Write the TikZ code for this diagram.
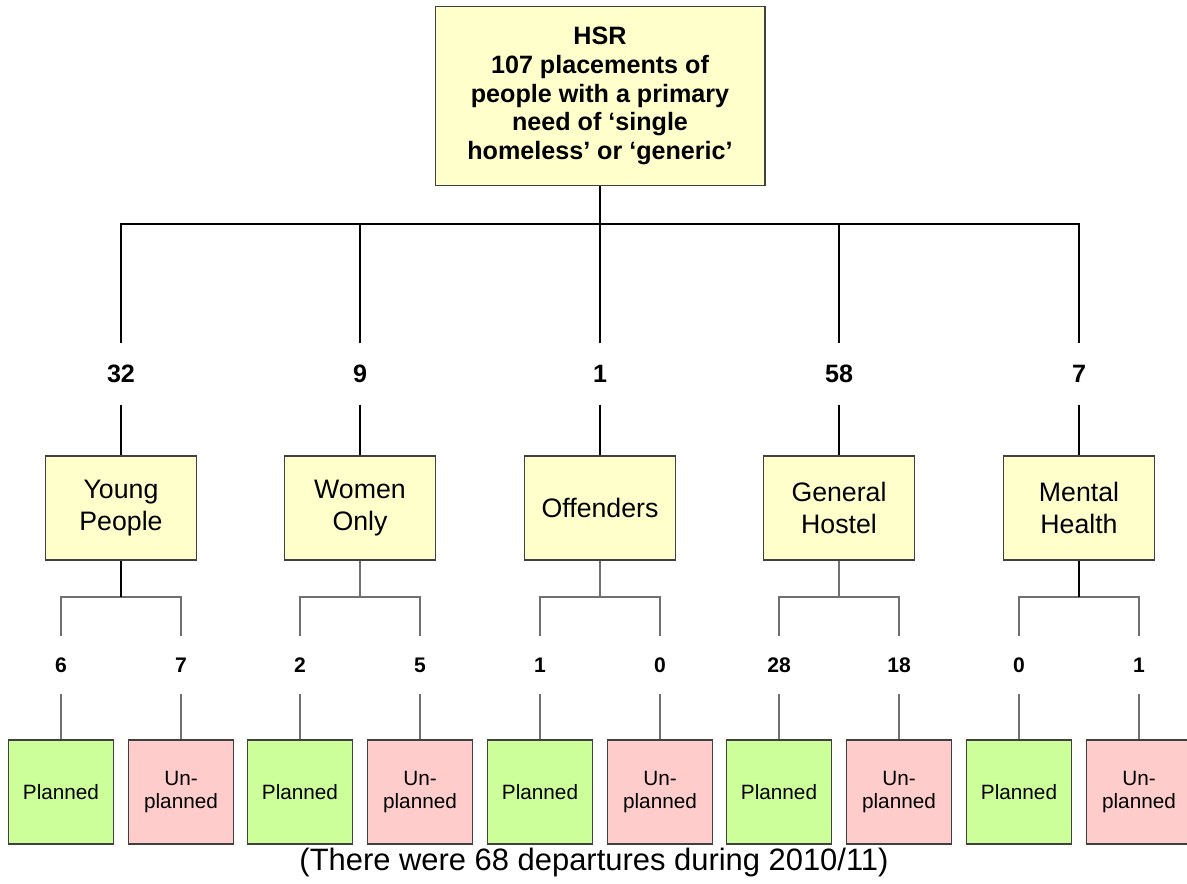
\documentclass[tikz,border=0pt]{standalone}
\usepackage{fontspec}
\setmainfont{Liberation Sans}
\usetikzlibrary{positioning}

\definecolor{boxyellow}{HTML}{FFFFCC}
\definecolor{plangreen}{HTML}{CCFF99}
\definecolor{unplanpink}{HTML}{FFCCCC}
\definecolor{linegray}{HTML}{707070}

\tikzset{
  headbox/.style={draw=black!75, fill=boxyellow, minimum width=6.6cm, minimum height=3.58cm,
    align=center, font=\bfseries\fontsize{14.3}{16.3}\selectfont},
  groupbox/.style={draw=black!75, fill=boxyellow, minimum width=3.02cm, minimum height=2.08cm,
    align=center, font=\fontsize{15.2}{17.8}\selectfont},
  planbox/.style={draw=black!75, fill=plangreen, minimum width=2.1cm, minimum height=2.08cm,
    align=center, font=\fontsize{11.8}{13.6}\selectfont},
  unplanbox/.style={planbox, fill=unplanpink},
  groupnum/.style={minimum height=1.2cm, inner sep=0pt, font=\bfseries\fontsize{14.3}{16}\selectfont},
  leafnum/.style={minimum height=1.12cm, inner sep=0pt, font=\bfseries\fontsize{12}{13}\selectfont},
  subline/.style={draw=linegray, line width=0.6pt}
}

\begin{document}
\begin{tikzpicture}[x=0.02cm, y=-0.02cm, line width=0.6pt]
    \useasboundingbox (0,0) rectangle (1187,884);

    % head
    \node [headbox] (hsr) at (600,96) {HSR\\107 placements of\\people with a primary\\need of `single\\homeless' or `generic'};
    \coordinate (hsr-j) at (600,224);

    % groups
    \node [groupnum] (young-n) at (121,374) {32};
    \node [groupnum] (women-n) at (360,374) {9};
    \node [groupnum] (offend-n) at (600,374) {1};
    \node [groupnum] (hostel-n) at (839,374) {58};
    \node [groupnum] (mental-n) at (1079,374) {7};

    \node [groupbox] (young) at (121,508) {Young\\People};
    \node [groupbox] (women) at (360,508) {Women\\Only};
    \node [groupbox] (offend) at (600,508) {Offenders};
    \node [groupbox] (hostel) at (839,508) {General\\Hostel};
    \node [groupbox] (mental) at (1079,508) {Mental\\Health};

    \draw [line width=1.2pt] (hsr.south) -- (hsr-j);
    \draw (young-n.north) |- (hsr-j) -| (mental-n.north);
    \draw (women-n.north) -- (women-n.north |- hsr-j);
    \draw (offend-n.north) -- (hsr-j);
    \draw (hostel-n.north) -- (hostel-n.north |- hsr-j);
    \foreach \g in {young,women,offend,hostel,mental}
        \draw (\g-n.south) -- (\g.north);

    % planned / unplanned
    \node [leafnum] (young-pn) at (61,665) {6};
    \node [leafnum] (young-un) at (181,665) {7};
    \node [leafnum] (women-pn) at (300,665) {2};
    \node [leafnum] (women-un) at (420,665) {5};
    \node [leafnum] (offend-pn) at (540,665) {1};
    \node [leafnum] (offend-un) at (660,665) {0};
    \node [leafnum] (hostel-pn) at (779,665) {28};
    \node [leafnum] (hostel-un) at (899,665) {18};
    \node [leafnum] (mental-pn) at (1019,665) {0};
    \node [leafnum] (mental-un) at (1139,665) {1};

    \foreach \g in {young,women,offend,hostel,mental} {
        \node [planbox] (\g-p) at (\g-pn |- 0,792) {Planned};
        \node [unplanbox] (\g-u) at (\g-un |- 0,792) {Un-\\planned};
        \coordinate (\g-j) at (\g |- 0,597);
        \draw [subline] (\g-pn.north) |- (\g-j) -| (\g-un.north);
        \draw [subline] (\g-pn.south) -- (\g-p.north);
        \draw [subline] (\g-un.south) -- (\g-u.north);
    }
    \draw [line width=1.2pt] (young.south) -- (young-j);
    \draw [subline] (women.south) -- (women-j);
    \draw [subline] (offend.south) -- (offend-j);
    \draw [subline] (hostel.south) -- (hostel-j);
    \draw [line width=1.2pt] (mental.south) -- (mental-j);

    % caption
    \node [font=\fontsize{17.6}{20}\selectfont] (note) at (594,863) {(There were 68 departures during 2010/11)};
\end{tikzpicture}
\end{document}
